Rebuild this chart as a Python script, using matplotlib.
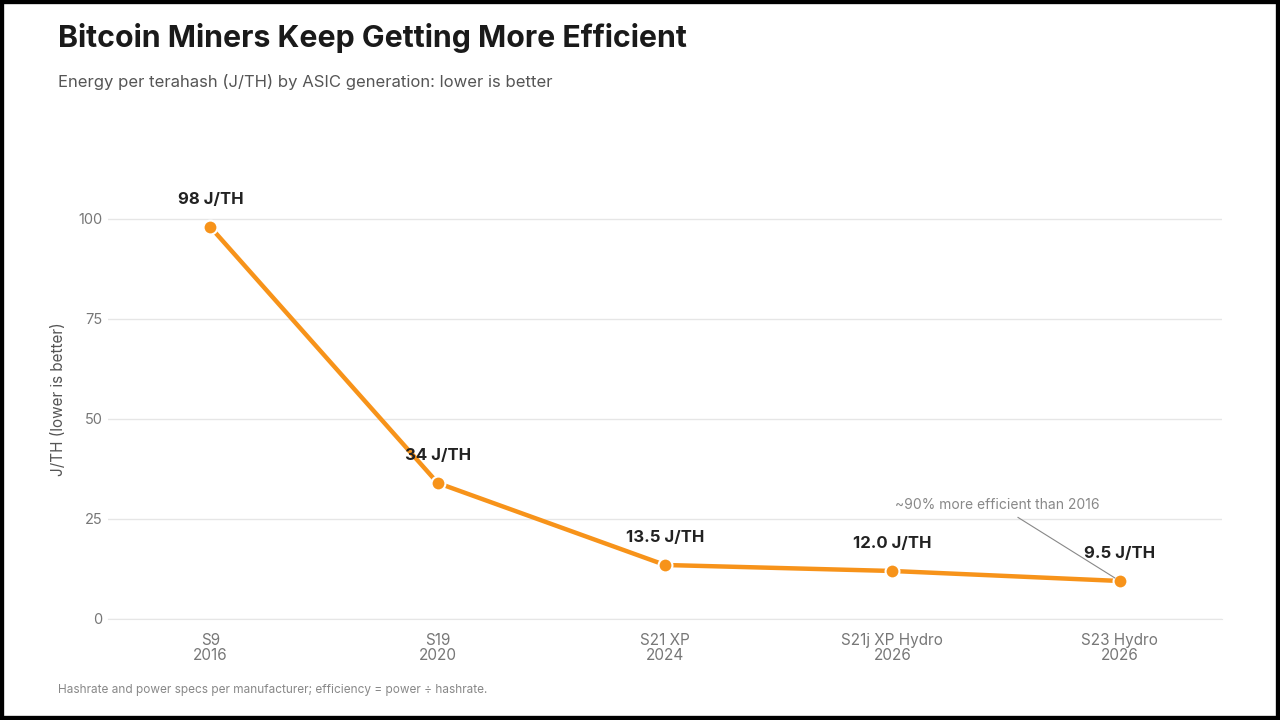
import matplotlib.pyplot as plt
from matplotlib.patches import Rectangle

plt.rcParams['font.family'] = ['Inter', 'DejaVu Sans']

# data
models = ['S9', 'S19', 'S21 XP', 'S21j XP Hydro', 'S23 Hydro']
years = ['2016', '2020', '2024', '2026', '2026']
jth = [98, 34, 13.5, 12.0, 9.5]
point_labels = ['98 J/TH', '34 J/TH', '13.5 J/TH', '12.0 J/TH', '9.5 J/TH']
yticks = [0, 25, 50, 75, 100]

orange = '#F7931A'

fig = plt.figure(figsize=(12.8, 7.2), dpi=100)
ax = fig.add_axes([0.0844, 0.1403, 0.8703, 0.6111])

x = list(range(len(models)))
ax.plot(x, jth, color=orange, lw=3.2, marker='o', markersize=10,
        markeredgecolor='white', markeredgewidth=1.5, zorder=3, solid_capstyle='round')

for xi, v, lab in zip(x, jth, point_labels):
    ax.annotate(lab, (xi, v), xytext=(0, 20), textcoords='offset points',
                ha='center', va='center', fontsize=12, fontweight='bold', color='#222222')

ax.annotate('~90% more efficient than 2016', xy=(4, jth[-1]), xytext=(-88, 55),
            textcoords='offset points', ha='center', va='center', fontsize=10, color='#888888',
            arrowprops=dict(arrowstyle='-', color='#888888', lw=0.8, shrinkA=4, shrinkB=4))

ax.set_xlim(-0.45, 4.45)
ax.set_ylim(0, 110)
ax.set_yticks(yticks)
ax.set_xticks(x)
ax.set_xticklabels([f'{m}\n{y}' for m, y in zip(models, years)], linespacing=1.0)
ax.tick_params(axis='both', length=0, labelsize=10.5, labelcolor='#777777')
ax.tick_params(axis='x', pad=10, labelsize=11)
ax.tick_params(axis='y', pad=4)
ax.grid(axis='y', color='#e6e6e6', lw=1)
ax.set_axisbelow(True)
for s in ['top', 'right', 'left']:
    ax.spines[s].set_visible(False)
ax.spines['bottom'].set_color('#e6e6e6')
ax.set_ylabel('J/TH (lower is better)', fontsize=11, color='#555555', labelpad=9)

fig.text(0.0453, 0.947, 'Bitcoin Miners Keep Getting More Efficient', fontsize=21.8,
         fontweight='bold', color='#1a1a1a', va='center')
fig.text(0.0453, 0.886, 'Energy per terahash (J/TH) by ASIC generation: lower is better',
         fontsize=12, color='#555555', va='center')
fig.text(0.0453, 0.042, 'Hashrate and power specs per manufacturer; efficiency = power \u00f7 hashrate.',
         fontsize=8.5, color='#888888', va='center')

fig.patches.append(Rectangle((0, 0), 1, 1, transform=fig.transFigure, fill=False,
                             edgecolor='black', lw=6, zorder=10))

fig.savefig('out.png', dpi=100, facecolor='white')
